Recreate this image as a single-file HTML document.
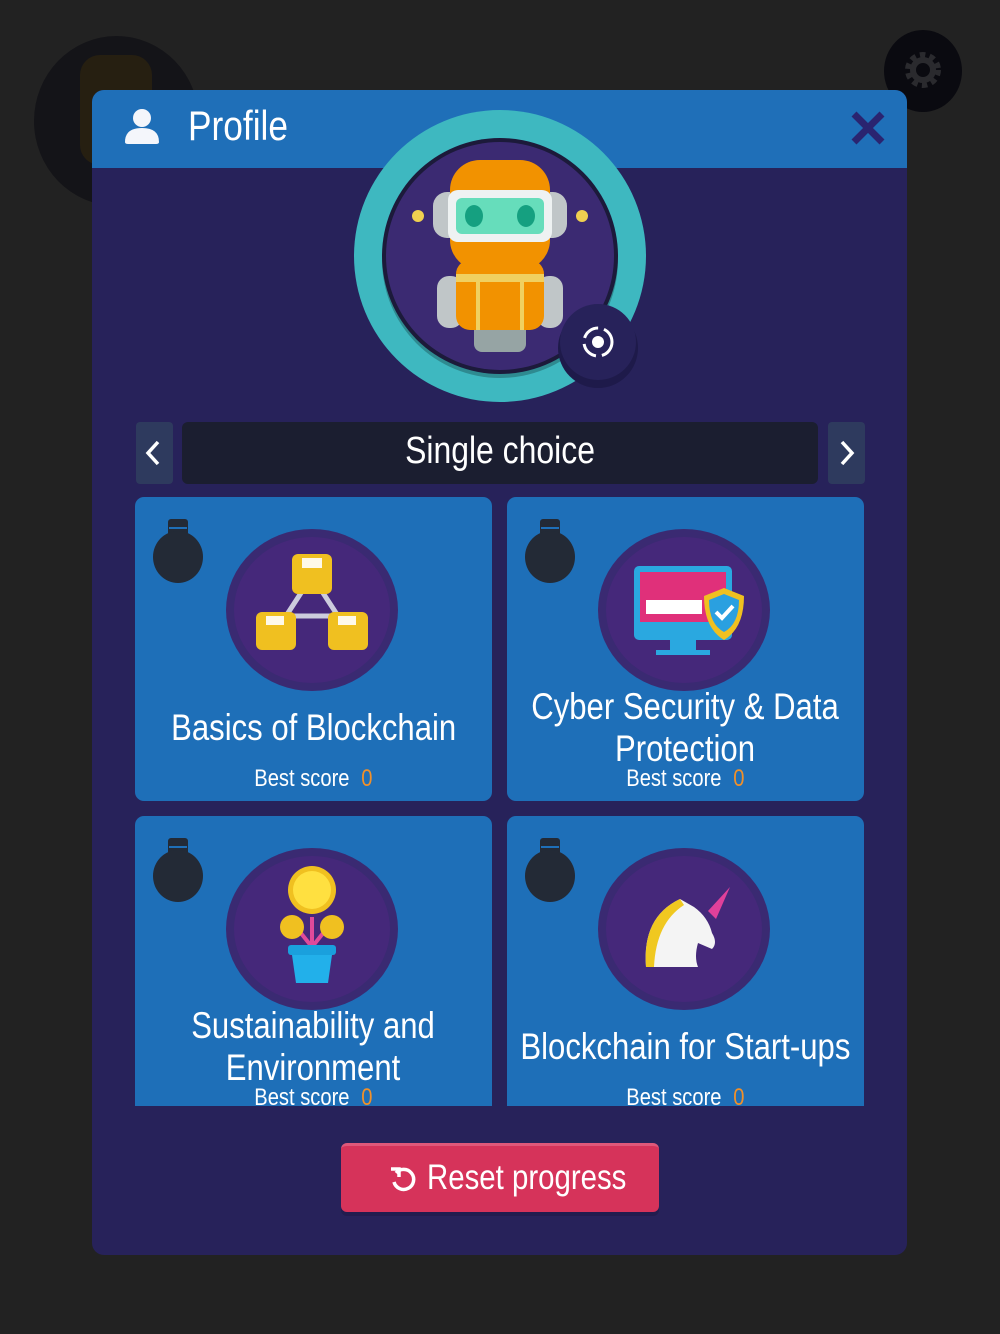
<!DOCTYPE html>
<html><head><meta charset="utf-8"><style>
*{margin:0;padding:0;box-sizing:border-box}
body{width:1000px;height:1334px;background:#222222;position:relative;overflow:hidden;font-family:"Liberation Sans",sans-serif;color:#fff}
.a{position:absolute}
.t{position:absolute;text-align:center;white-space:nowrap;display:flex;justify-content:center}
.t span{display:inline-block;transform:scaleX(0.84);transform-origin:center;flex:none}
.card{position:absolute;background:#1e6fb8;border-radius:9px}
.bs{font-size:24px}
.bs b{font-weight:normal;color:#f0902a;margin-left:14px}
</style></head><body>
<div class="a" style="left:34px;top:36px;width:165px;height:170px;border-radius:50%;background:#141418"></div>
<div class="a" style="left:80px;top:55px;width:72px;height:110px;border-radius:20px;background:#2a2210;opacity:.8"></div>
<div class="a" style="left:884px;top:30px;width:78px;height:82px;border-radius:50%;background:#0a0a10"></div>
<svg class="a" style="left:900px;top:47px" width="46" height="46" viewBox="0 0 46 46"><circle cx="23" cy="23" r="14" fill="none" stroke="#2a2a2e" stroke-width="8" stroke-dasharray="5 4"/><circle cx="23" cy="23" r="10" fill="none" stroke="#2a2a2e" stroke-width="6"/></svg>

<div class="a" style="left:92px;top:90px;width:815px;height:1165px;background:#27225a;border-radius:12px;overflow:hidden">
  <div class="a" style="left:0;top:0;width:815px;height:78px;background:#1f6fb8"></div>
</div>
<svg class="a" style="left:122px;top:106px" width="40" height="40" viewBox="0 0 40 40"><circle cx="20" cy="12" r="9" fill="#f4f6fb"/><path d="M3 36 Q3 22 20 22 Q37 22 37 36 Q37 38 34 38 L6 38 Q3 38 3 36Z" fill="#f4f6fb"/></svg>
<div class="a" style="left:188px;top:102px;font-size:42px;white-space:nowrap"><span style="display:inline-block;transform:scaleX(0.84);transform-origin:left">Profile</span></div>
<svg class="a" style="left:850px;top:110px" width="36" height="36" viewBox="0 0 36 36"><path d="M4 4 L32 32 M32 4 L4 32" stroke="#2a2470" stroke-width="7"/></svg>

<svg class="a" style="left:350px;top:108px" width="300" height="300" viewBox="0 0 300 300">
  <ellipse cx="150" cy="148" rx="146" ry="146" fill="#3eb8c0"/>
  <circle cx="150" cy="152" r="118" fill="#2e8a90"/>
  <circle cx="150" cy="148" r="118" fill="#1c1a3a"/>
  <circle cx="150" cy="148" r="114" fill="#3b2a72"/>
  <rect x="86" y="100" width="16" height="12" fill="#9aa"/><rect x="198" y="100" width="16" height="12" fill="#9aa"/>
  <circle cx="68" cy="108" r="6" fill="#f0d050"/><circle cx="232" cy="108" r="6" fill="#f0d050"/>
  <rect x="83" y="84" width="134" height="46" rx="14" fill="#c0c6c8"/>
  <rect x="100" y="52" width="100" height="110" rx="30" fill="#f29200"/>
  <rect x="98" y="82" width="104" height="52" rx="10" fill="#eef2f2"/>
  <rect x="106" y="90" width="88" height="36" rx="6" fill="#66ddbb"/>
  <ellipse cx="124" cy="108" rx="9" ry="11" fill="#15a080"/><ellipse cx="176" cy="108" rx="9" ry="11" fill="#15a080"/>
  <rect x="87" y="168" width="26" height="52" rx="12" fill="#c0c6c8"/><rect x="187" y="168" width="26" height="52" rx="12" fill="#c0c6c8"/>
  <rect x="124" y="214" width="52" height="30" rx="8" fill="#96a4a4"/>
  <rect x="106" y="152" width="88" height="70" rx="14" fill="#f29200"/>
  <rect x="106" y="166" width="88" height="8" fill="#f0d060"/>
  <rect x="126" y="172" width="4" height="50" fill="#f0d060"/><rect x="170" y="172" width="4" height="50" fill="#f0d060"/>
  <circle cx="248" cy="240" r="40" fill="#1e1a4a"/>
  <circle cx="248" cy="234" r="38" fill="#27225a"/>
  <circle cx="248" cy="234" r="14" fill="none" stroke="#fff" stroke-width="3" stroke-dasharray="18 6"/>
  <circle cx="248" cy="234" r="6" fill="#fff"/>
</svg>

<div class="a" style="left:136px;top:422px;width:37px;height:62px;background:#2e3a5e;border-radius:4px"></div>
<div class="a" style="left:828px;top:422px;width:37px;height:62px;background:#2e3a5e;border-radius:4px"></div>
<svg class="a" style="left:142px;top:438px" width="24" height="30"><path d="M16 4 L6 15 L16 26" stroke="#fff" stroke-width="3.5" fill="none"/></svg>
<svg class="a" style="left:834px;top:438px" width="24" height="30"><path d="M8 4 L18 15 L8 26" stroke="#fff" stroke-width="3.5" fill="none"/></svg>
<div class="a" style="left:182px;top:422px;width:636px;height:62px;background:#1b1e30;border-radius:6px"></div>
<div class="t" style="left:182px;width:636px;top:430px;font-size:38px"><span>Single choice</span></div>

<div class="card" style="left:135px;top:497px;width:357px;height:304px"></div>
<div class="card" style="left:507px;top:497px;width:357px;height:304px"></div>
<div class="card" style="left:135px;top:816px;width:357px;height:290px;border-radius:9px 9px 0 0"></div>
<div class="card" style="left:507px;top:816px;width:357px;height:290px;border-radius:9px 9px 0 0"></div>

<svg class="a" style="left:150px;top:517px" width="56" height="68"><rect x="18" y="2" width="20" height="18" rx="3" fill="#232a36"/><rect x="19" y="10" width="18" height="2" fill="#1e6fb8"/><ellipse cx="28" cy="40" rx="25" ry="26" fill="#232a36"/></svg>
<svg class="a" style="left:522px;top:517px" width="56" height="68"><rect x="18" y="2" width="20" height="18" rx="3" fill="#232a36"/><rect x="19" y="10" width="18" height="2" fill="#1e6fb8"/><ellipse cx="28" cy="40" rx="25" ry="26" fill="#232a36"/></svg>
<svg class="a" style="left:150px;top:836px" width="56" height="68"><rect x="18" y="2" width="20" height="18" rx="3" fill="#232a36"/><rect x="19" y="10" width="18" height="2" fill="#1e6fb8"/><ellipse cx="28" cy="40" rx="25" ry="26" fill="#232a36"/></svg>
<svg class="a" style="left:522px;top:836px" width="56" height="68"><rect x="18" y="2" width="20" height="18" rx="3" fill="#232a36"/><rect x="19" y="10" width="18" height="2" fill="#1e6fb8"/><ellipse cx="28" cy="40" rx="25" ry="26" fill="#232a36"/></svg>

<svg class="a" style="left:226px;top:528px" width="172" height="164"><ellipse cx="86" cy="82" rx="86" ry="81" fill="#3a2a72"/><ellipse cx="86" cy="82" rx="78" ry="73" fill="#45287a"/>
<path d="M86 48 L60 88 L112 88 Z" fill="none" stroke="#ccd" stroke-width="5"/>
<rect x="66" y="26" width="40" height="40" rx="6" fill="#f0c020"/><rect x="76" y="30" width="20" height="10" fill="#fff" opacity=".9"/>
<rect x="30" y="84" width="40" height="38" rx="6" fill="#f0c020"/><rect x="40" y="88" width="18" height="9" fill="#fff" opacity=".9"/>
<rect x="102" y="84" width="40" height="38" rx="6" fill="#f0c020"/><rect x="112" y="88" width="18" height="9" fill="#fff" opacity=".9"/></svg>
<svg class="a" style="left:598px;top:528px" width="172" height="164"><ellipse cx="86" cy="82" rx="86" ry="81" fill="#3a2a72"/><ellipse cx="86" cy="82" rx="78" ry="73" fill="#45287a"/>
<rect x="36" y="38" width="98" height="74" rx="5" fill="#2aa8e0"/><rect x="42" y="44" width="86" height="50" fill="#e0307a"/>
<rect x="48" y="72" width="56" height="14" fill="#fff"/><rect x="72" y="112" width="26" height="10" fill="#2aa8e0"/><rect x="58" y="122" width="54" height="5" fill="#2aa8e0"/>
<path d="M126 60 L146 68 Q146 100 126 112 Q106 100 106 68Z" fill="#f0c020"/><path d="M126 66 L141 72 Q141 96 126 104 Q111 96 111 72Z" fill="#2aa0e0"/>
<path d="M118 84 L124 90 L135 78" stroke="#fff" stroke-width="4" fill="none"/></svg>
<svg class="a" style="left:226px;top:847px" width="172" height="164"><ellipse cx="86" cy="82" rx="86" ry="81" fill="#3a2a72"/><ellipse cx="86" cy="82" rx="78" ry="73" fill="#45287a"/>
<path d="M86 70 L86 100 M86 100 L70 80 M86 100 L102 80" stroke="#e04a9a" stroke-width="4"/>
<circle cx="86" cy="43" r="24" fill="#f0c020"/><circle cx="86" cy="43" r="19" fill="#ffe040"/>
<circle cx="66" cy="80" r="12" fill="#f0c020"/><circle cx="106" cy="80" r="12" fill="#f0c020"/>
<rect x="62" y="98" width="48" height="10" rx="3" fill="#1aa0dd"/><path d="M66 108 L106 108 L102 136 L70 136Z" fill="#22b0ea"/></svg>
<svg class="a" style="left:598px;top:847px" width="172" height="164"><ellipse cx="86" cy="82" rx="86" ry="81" fill="#3a2a72"/><ellipse cx="86" cy="82" rx="78" ry="73" fill="#45287a"/>
<path d="M48 120 Q44 70 82 52 L96 60 Q110 70 114 86 Q120 96 114 102 L100 96 Q96 110 100 120Z" fill="#f4f4f4"/>
<path d="M48 120 Q44 70 82 52 L86 58 Q58 76 56 120Z" fill="#f0c820"/>
<path d="M110 64 L132 40 L118 72Z" fill="#e0409a"/></svg>

<div class="t" style="left:135px;width:357px;top:707px;font-size:37px"><span>Basics of Blockchain</span></div>
<div class="t bs" style="left:135px;width:357px;top:765px"><span>Best score<b>0</b></span></div>
<div class="t" style="left:507px;width:357px;top:686px;font-size:37px;line-height:42px"><span>Cyber Security &amp; Data<br>Protection</span></div>
<div class="t bs" style="left:507px;width:357px;top:765px"><span>Best score<b>0</b></span></div>
<div class="t" style="left:135px;width:357px;top:1005px;font-size:37px;line-height:42px"><span>Sustainability and<br>Environment</span></div>
<div class="t bs" style="left:135px;width:357px;top:1084px"><span>Best score<b>0</b></span></div>
<div class="t" style="left:507px;width:357px;top:1026px;font-size:37px"><span>Blockchain for Start-ups</span></div>
<div class="t bs" style="left:507px;width:357px;top:1084px"><span>Best score<b>0</b></span></div>

<div class="a" style="left:341px;top:1143px;width:318px;height:69px;background:#d6335a;border-radius:6px;border-top:3px solid #e0587a;box-shadow:0 4px 0 #221c4e"></div>
<svg class="a" style="left:388px;top:1164px" width="30" height="30" viewBox="0 0 30 30"><path d="M8 9 A10 10 0 1 1 6 18" stroke="#fff" stroke-width="3.5" fill="none"/><path d="M3 5 L11 5 L11 13" stroke="#fff" stroke-width="3.5" fill="none"/></svg>
<div class="a" style="left:427px;top:1158px;font-size:35px;white-space:nowrap"><span style="display:inline-block;transform:scaleX(0.84);transform-origin:left">Reset progress</span></div>
</body></html>
